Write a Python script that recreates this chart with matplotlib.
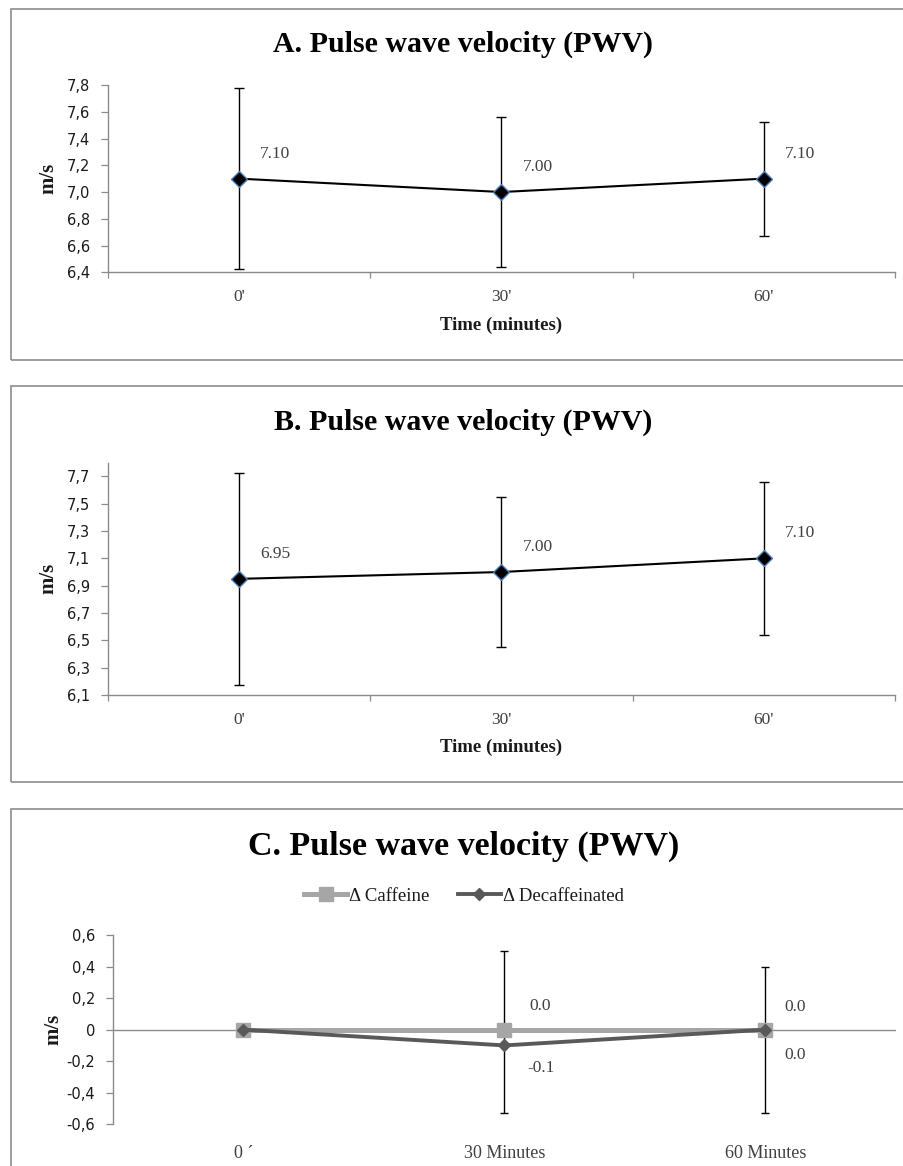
import numpy as np
import matplotlib
matplotlib.use("Agg")
import matplotlib.pyplot as plt
from matplotlib.patches import Rectangle

# ---- data ----
time_ab = ["0'", "30'", "60'"]
pwv_a = [7.10, 7.00, 7.10]
err_a = [0.675, 0.56, 0.425]
pwv_b = [6.95, 7.00, 7.10]
err_b = [0.775, 0.55, 0.56]

time_c = ["0 \u00b4", "30 Minutes", "60 Minutes"]
delta_caffeine = [0.0, 0.0, 0.0]
delta_decaf = [0.0, -0.1, 0.0]
err_decaf_minus = [0.0, 0.43, 0.53]
err_decaf_plus = [0.0, 0.60, 0.40]

yticks_a = [6.4, 6.6, 6.8, 7.0, 7.2, 7.4, 7.6, 7.8]
yticks_b = [6.1, 6.3, 6.5, 6.7, 6.9, 7.1, 7.3, 7.5, 7.7]
yticks_c = [-0.6, -0.4, -0.2, 0.0, 0.2, 0.4, 0.6]

W, H = 904, 1166
DPI = 100
SERIF = "Liberation Serif"
SANS = "DejaVu Sans"
SPINE = "#8a8a8a"
FRAME = "#8c8c8c"
LABEL = "#404040"

fig = plt.figure(figsize=(W / DPI, H / DPI), dpi=DPI)
fig.patch.set_facecolor("white")


def px_rect(x0, y0, x1, y1):
    """Pixel box (top-left origin) -> figure fraction [l, b, w, h]."""
    return [x0 / W, 1 - y1 / H, (x1 - x0) / W, (y1 - y0) / H]


def frame(y0, y1):
    l, b, w, h = px_rect(11, y0, 960, y1)
    fig.add_artist(Rectangle((l, b), w, h, transform=fig.transFigure,
                             fill=False, edgecolor=FRAME, linewidth=1.2,
                             clip_on=False))


def comma(v):
    if abs(v) < 1e-9:
        return "0"
    return f"{v:.1f}".replace(".", ",")


def style_y(ax, ticks):
    ax.set_yticks(ticks)
    ax.set_yticklabels([comma(t) for t in ticks], fontfamily=SANS,
                       fontsize=10.5, color="#1a1a1a")
    ax.tick_params(axis="y", direction="out", length=5, width=0.9,
                   color=SPINE, pad=8)
    for s in ("top", "right"):
        ax.spines[s].set_visible(False)
    ax.spines["left"].set_color(SPINE)
    ax.spines["bottom"].set_color(SPINE)
    ax.spines["left"].set_linewidth(1.0)
    ax.spines["bottom"].set_linewidth(1.0)
    ax.text(-0.076, 0.5, "m/s", transform=ax.transAxes, rotation=90,
            ha="center", va="center", fontfamily=SERIF, fontweight="bold",
            fontsize=15, color="#1a1a1a")


def pwv_panel(box, values, errs, ylim, yticks, title, title_base, xlab_base):
    ax = fig.add_axes(px_rect(*box))
    x = np.arange(len(time_ab))
    ax.errorbar(x, values, yerr=errs, fmt="none", ecolor="black",
                elinewidth=1.0, capsize=3.8, capthick=1.0, zorder=2)
    ax.plot(x, values, color="black", linewidth=1.5, marker="D",
            markersize=8, markerfacecolor="black",
            markeredgecolor="#4f81bd", markeredgewidth=1.0, zorder=3)
    for xi, v in zip(x, values):
        ax.annotate(f"{v:.2f}", (xi, v), xytext=(26, 18),
                    textcoords="offset points", ha="center", va="center",
                    fontfamily=SERIF, fontsize=12.5, color=LABEL)
    ax.set_xlim(-0.5, len(time_ab) - 0.5)
    ax.set_ylim(*ylim)
    ax.set_xticks(x)
    ax.set_xticklabels(time_ab, fontfamily=SERIF, fontsize=12.5, color=LABEL)
    ax.set_xticks(np.arange(-0.5, len(time_ab)), minor=True)
    ax.tick_params(axis="x", which="major", length=0, pad=12)
    ax.tick_params(axis="x", which="minor", direction="out", length=4,
                   width=0.9, color=SPINE)
    style_y(ax, yticks)
    fig.text(463 / W, 1 - title_base / H, title, ha="center", va="baseline",
             fontfamily=SERIF, fontweight="bold", fontsize=21.5, color="black")
    fig.text(((box[0] + box[2]) / 2) / W, 1 - xlab_base / H,
             "Time (minutes)", ha="center", va="baseline", fontfamily=SERIF,
             fontweight="bold", fontsize=13.5, color="#1a1a1a")
    return ax


# ---- panel frames ----
frame(9, 359.5)
frame(386, 781.5)
frame(809, 1200)

# ---- panels A and B ----
pwv_panel((108, 85, 895, 272.3), pwv_a, err_a, (6.4, 7.8), yticks_a,
          "A. Pulse wave velocity (PWV)", 52, 330)
pwv_panel((108, 462.7, 895, 695), pwv_b, err_b, (6.1, 7.8), yticks_b,
          "B. Pulse wave velocity (PWV)", 430, 752)

# ---- panel C: change from baseline ----
axc = fig.add_axes(px_rect(113, 935, 896, 1124.3))
xc = np.arange(len(time_c))
axc.axhline(0, color=SPINE, linewidth=1.0, zorder=1)

dv = np.asarray(delta_decaf)
em = np.asarray(err_decaf_minus)
ep = np.asarray(err_decaf_plus)
has_err = (em + ep) > 0
axc.errorbar(xc[has_err], dv[has_err], yerr=[em[has_err], ep[has_err]],
             fmt="none", ecolor="black", elinewidth=1.0, capsize=3.2,
             capthick=1.0, zorder=2)

axc.plot(xc, delta_caffeine, color="#a6a6a6", linewidth=3.6, marker="s",
         markersize=10.5, markerfacecolor="#a6a6a6", markeredgecolor="#a6a6a6",
         label="\u0394 Caffeine", zorder=3)
axc.plot(xc, delta_decaf, color="#595959", linewidth=2.8, marker="D",
         markersize=6.5, markerfacecolor="#595959", markeredgecolor="#595959",
         label="\u0394 Decaffeinated", zorder=4)

caff_offsets = [None, (26, 17), (21, 16)]
decaf_offsets = [None, (26, -16), (21, -18)]
for xi, v, off in zip(xc, delta_caffeine, caff_offsets):
    if off is not None:
        axc.annotate(f"{v:.1f}", (xi, v), xytext=off,
                     textcoords="offset points", ha="center", va="center",
                     fontfamily=SERIF, fontsize=12.5, color=LABEL)
for xi, v, off in zip(xc, delta_decaf, decaf_offsets):
    if off is not None:
        axc.annotate(f"{v:.1f}", (xi, v), xytext=off,
                     textcoords="offset points", ha="center", va="center",
                     fontfamily=SERIF, fontsize=12.5, color=LABEL)

axc.set_xlim(-0.5, len(time_c) - 0.5)
axc.set_ylim(-0.6, 0.6)
axc.set_xticks(xc)
axc.set_xticklabels(time_c, fontfamily=SERIF, fontsize=13, color=LABEL)
axc.tick_params(axis="x", length=0, pad=15)
style_y(axc, yticks_c)
axc.spines["bottom"].set_visible(False)

fig.text(464 / W, 1 - 855 / H, "C. Pulse wave velocity (PWV)", ha="center",
         va="baseline", fontfamily=SERIF, fontweight="bold", fontsize=24.5,
         color="black")
fig.legend(*axc.get_legend_handles_labels(), loc="center",
           bbox_to_anchor=(464 / W, 1 - 896 / H), ncol=2, frameon=False,
           prop={"family": SERIF, "size": 13.5}, handlelength=2.3,
           handletextpad=0.1, columnspacing=1.5, labelcolor="#1a1a1a")

fig.savefig("out.png", dpi=DPI, facecolor="white")
